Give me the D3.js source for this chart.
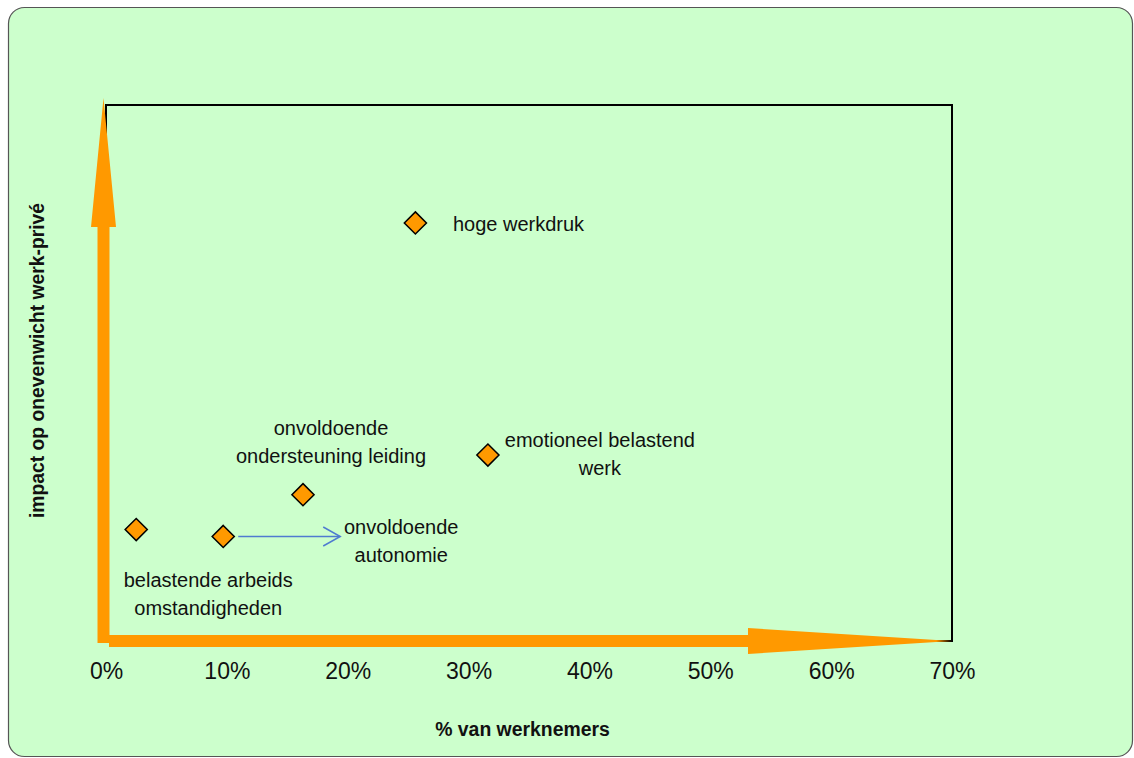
<!DOCTYPE html>
<html>
<head>
<meta charset="utf-8">
<script src="https://cdn.jsdelivr.net/npm/d3@7"></script>
<style>
  html, body { margin: 0; padding: 0; background: #ffffff; }
  svg { display: block; font-family: "Liberation Sans", Arial, sans-serif; }
</style>
</head>
<body>
<svg id="chart" width="1134" height="758"></svg>
<script>
// ---- data ----
const categories = [
  "belastende arbeids omstandigheden",
  "onvoldoende autonomie",
  "onvoldoende ondersteuning leiding",
  "emotioneel belastend werk",
  "hoge werkdruk"
];
const pctWorkers = [2.5, 9.7, 16.3, 31.6, 25.6];      // % van werknemers
const impactScore = [20.8, 19.5, 27.3, 34.7, 78.0];   // impact (unscaled axis)
const labelLines = [
  ["belastende arbeids", "omstandigheden"],
  ["onvoldoende", "autonomie"],
  ["onvoldoende", "ondersteuning leiding"],
  ["emotioneel belastend", "werk"],
  ["hoge werkdruk"]
];
const xTickValues = [0, 10, 20, 30, 40, 50, 60, 70];
const xTitle = "% van werknemers";
const yTitle = "impact op onevenwicht werk-privé";

// ---- layout (label offsets relative to marker, px) ----
const labelLayout = [
  { dx: 72, dy: 57, anchor: "middle" },
  { dx: 178, dy: -2.5, anchor: "middle" },
  { dx: 28, dy: -59.5, anchor: "middle" },
  { dx: 112, dy: -8.3, anchor: "middle" },
  { dx: 37.5, dy: 8.5, anchor: "start" }
];

const orange = "#FF9900";
const svg = d3.select("#chart");

// background panel
svg.append("rect")
  .attr("x", 8.5).attr("y", 7.5)
  .attr("width", 1124).attr("height", 749)
  .attr("rx", 16).attr("ry", 16)
  .attr("fill", "#CCFFCC")
  .attr("stroke", "#555").attr("stroke-width", 1.2);

const x = d3.scaleLinear().domain([0, 70]).range([106, 952]);
const y = d3.scaleLinear().domain([0, 100]).range([641, 105]);

// plot frame
svg.append("rect")
  .attr("x", x(0)).attr("y", y(100))
  .attr("width", x(70) - x(0)).attr("height", y(0) - y(100))
  .attr("fill", "none").attr("stroke", "#000").attr("stroke-width", 2);

// orange axis arrows
const ax = x(0) - 2.5;
const ayTip = y(100) - 7;
svg.append("polygon")
  .attr("fill", orange)
  .attr("points", [
    [ax - 6, y(0) + 2], [ax - 6, ayTip + 129], [ax - 12.5, ayTip + 129],
    [ax, ayTip], [ax + 12.5, ayTip + 129], [ax + 6, ayTip + 129], [ax + 6, y(0) + 2]
  ].map(p => p.join(",")).join(" "));

const by = y(0);
const bxTip = x(70);
svg.append("polygon")
  .attr("fill", orange)
  .attr("points", [
    [x(0) + 3, by - 6], [bxTip - 204, by - 6], [bxTip - 204, by - 13],
    [bxTip, by], [bxTip - 204, by + 13], [bxTip - 204, by + 6], [x(0) + 3, by + 6]
  ].map(p => p.join(",")).join(" "));

// x axis tick labels
const xAxis = d3.axisBottom(x)
  .tickValues(xTickValues)
  .tickFormat(d => d + "%")
  .tickSize(0)
  .tickPadding(22);
const gx = svg.append("g").attr("transform", `translate(0,${y(0)})`).call(xAxis);
gx.select(".domain").remove();
gx.selectAll("text")
  .attr("font-family", "Liberation Sans, Arial, sans-serif")
  .attr("font-size", 23).attr("fill", "#111");

// axis titles
svg.append("text")
  .attr("x", 522.5).attr("y", 735.5)
  .attr("text-anchor", "middle")
  .attr("font-size", 19.4).attr("font-weight", "bold").attr("fill", "#111")
  .text(xTitle);

svg.append("text")
  .attr("transform", "translate(43.5,360.5) rotate(-90)")
  .attr("text-anchor", "middle")
  .attr("font-size", 19.3).attr("font-weight", "bold").attr("fill", "#111")
  .text(yTitle);

// blue arrow for autonomie
const ai = 1;
const ax0 = x(pctWorkers[ai]) + 15, ay0 = y(impactScore[ai]);
const ax1 = ax0 + 102;
svg.append("line")
  .attr("x1", ax0).attr("y1", ay0).attr("x2", ax1).attr("y2", ay0)
  .attr("stroke", "#4F7BD0").attr("stroke-width", 1.5);
svg.append("polyline")
  .attr("points", `${ax1 - 17},${ay0 - 9.5} ${ax1},${ay0} ${ax1 - 17},${ay0 + 9.5}`)
  .attr("fill", "none").attr("stroke", "#4F7BD0").attr("stroke-width", 1.5);

// markers
const pts = categories.map((c, i) => ({ c, xv: pctWorkers[i], yv: impactScore[i], lines: labelLines[i], lay: labelLayout[i] }));
const diamond = d3.symbol().type(d3.symbolDiamond2).size(2 * 12.5 * 12.5);
svg.selectAll("path.mk").data(pts).join("path")
  .attr("class", "mk")
  .attr("d", diamond)
  .attr("transform", d => `translate(${x(d.xv)},${y(d.yv)})`)
  .attr("fill", orange).attr("stroke", "#000").attr("stroke-width", 1.5);

// labels
pts.forEach(d => {
  const t = svg.append("text")
    .attr("text-anchor", d.lay.anchor)
    .attr("font-size", 20).attr("fill", "#111");
  d.lines.forEach((ln, k) => {
    t.append("tspan")
      .attr("x", x(d.xv) + d.lay.dx)
      .attr("y", y(d.yv) + d.lay.dy + k * 28)
      .text(ln);
  });
});
</script>
</body>
</html>
